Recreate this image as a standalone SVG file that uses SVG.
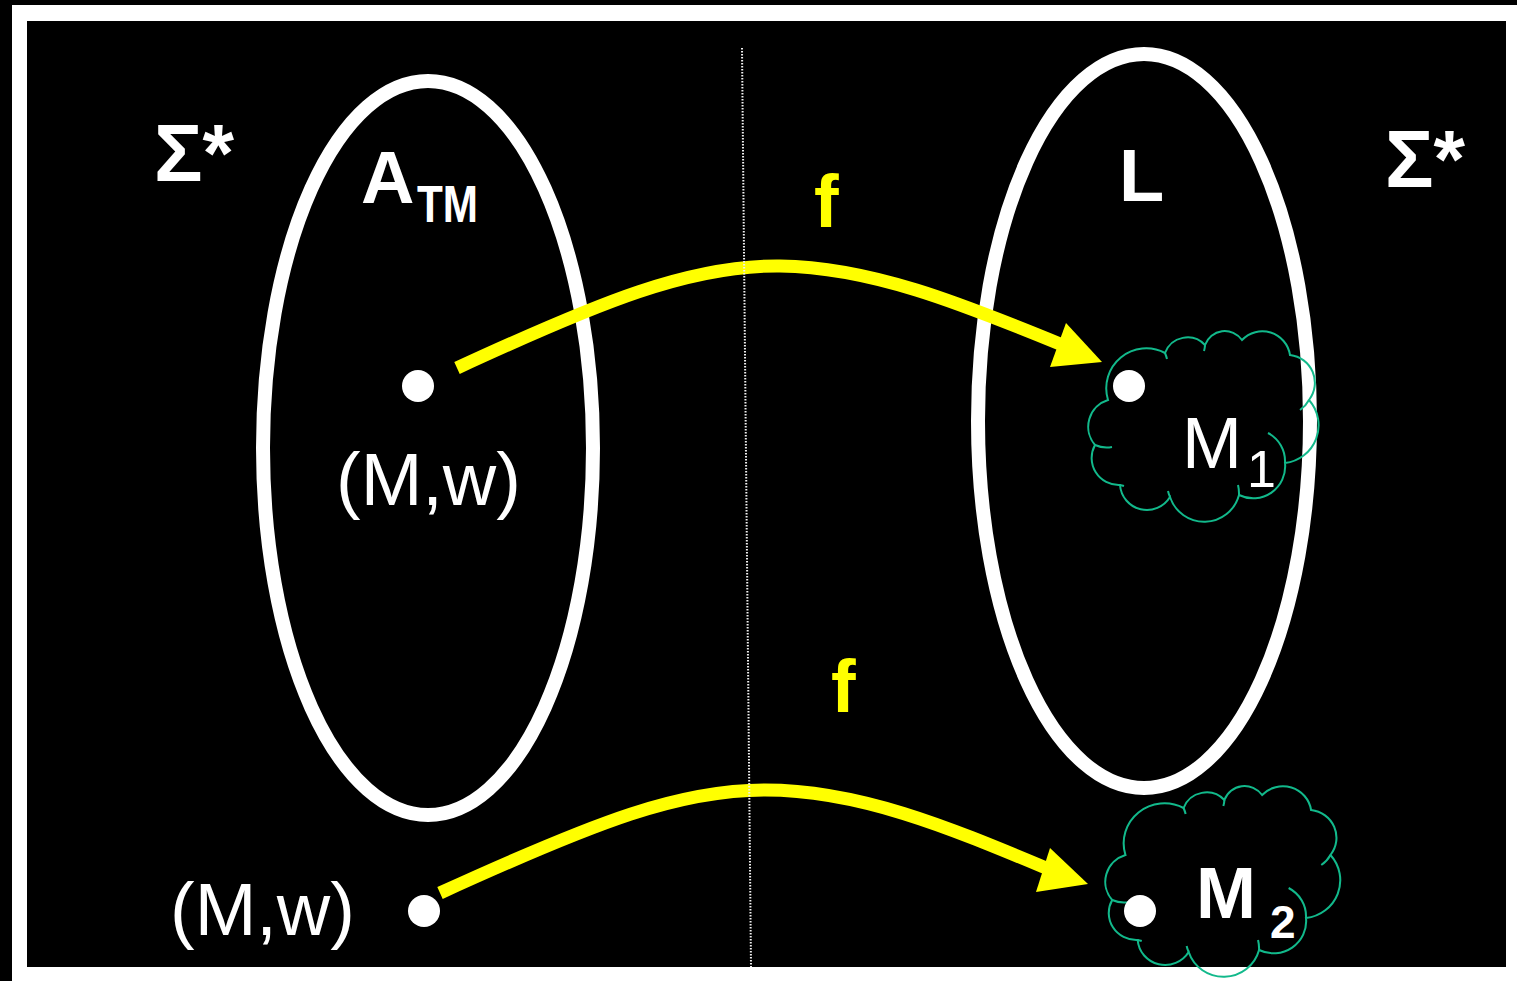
<svg xmlns="http://www.w3.org/2000/svg" width="1517" height="981" viewBox="0 0 1517 981">
  <style>
    .set { fill: none; stroke: #ffffff; stroke-width: 14; }
    .dot { fill: #ffffff; }
    .cloud { fill: none; stroke: #12b98b; stroke-width: 2; }
    .map { fill: none; stroke: #ffff00; stroke-width: 13; }
    .head { fill: #ffff00; }
    .lbl { fill: #ffffff; font-family: "Liberation Sans", Arial, sans-serif; }
    .b { font-weight: bold; }
    .f { fill: #ffff00; font-family: "Liberation Sans", Arial, sans-serif; font-weight: bold; font-size: 74px; }
  </style>
  <defs>
    <g id="cloudShape">
      <path class="cloud" d="M22,70 A40,40 0 0 1 79,23 A24,24 0 0 1 119,15 A21,21 0 0 1 156,10 A28,28 0 0 1 204,25 A28,28 0 0 1 223,70 A38,38 0 0 1 199,133 A32,32 0 0 1 153,165 A36,36 0 0 1 84,167 A27,27 0 0 1 34,155 A27,27 0 0 1 9,115 A28,28 0 0 1 22,70 Z"/>
      <path class="cloud" d="M182,103 A32,32 0 0 1 199,133 M26,117 A28,28 0 0 1 9,115 M223,70 A28,28 0 0 1 214,80 M79,23 A40,40 0 0 1 81,29 M119,15 A24,24 0 0 1 118,21 M152,155 A36,36 0 0 1 153,165 M84,167 A30,30 0 0 1 82,161 M34,155 A27,27 0 0 1 38,156"/>
    </g>
  </defs>

  <!-- frame -->
  <rect x="0" y="0" width="1517" height="981" fill="#000000"/>
  <rect x="12" y="5" width="1510" height="981" fill="#ffffff"/>
  <rect x="27" y="21" width="1479" height="946" fill="#000000"/>

  <!-- sets -->
  <g id="set-atm">
    <ellipse class="set" cx="428" cy="448" rx="165" ry="367"/>
    <text class="lbl b" x="361" y="203" font-size="74">A</text>
    <text class="lbl b" x="417" y="222" font-size="52" textLength="61" lengthAdjust="spacingAndGlyphs">TM</text>
  </g>
  <g id="set-l">
    <ellipse class="set" cx="1144" cy="421" rx="166" ry="367"/>
    <text class="lbl b" x="1119" y="201" font-size="74">L</text>
  </g>

  <g id="sigma-left">
    <text class="lbl b" x="154" y="181" font-size="81">Σ*</text>
  </g>
  <g id="sigma-right">
    <text class="lbl b" x="1385" y="187" font-size="81">Σ*</text>
  </g>

  <!-- elements -->
  <g id="mw-in">
    <circle class="dot" cx="418" cy="386" r="16"/>
    <text class="lbl" x="336" y="505" font-size="74">(M,w)</text>
  </g>
  <g id="mw-out">
    <circle class="dot" cx="424" cy="911" r="16"/>
    <text class="lbl" x="170" y="935" font-size="74">(M,w)</text>
  </g>

  <g id="m1">
    <use href="#cloudShape" transform="translate(1086,330)"/>
    <circle class="dot" cx="1129" cy="386" r="16"/>
    <text class="lbl" x="1182" y="468" font-size="72">M</text>
    <text class="lbl" x="1247" y="487" font-size="52">1</text>
  </g>
  <g id="m2">
    <use href="#cloudShape" transform="translate(1103,785) scale(1.02,1)"/>
    <circle class="dot" cx="1140" cy="911" r="16"/>
    <text class="lbl b" x="1196" y="918" font-size="72">M</text>
    <text class="lbl b" x="1270" y="938" font-size="46">2</text>
  </g>

  <!-- reduction arrows -->
  <g id="connectors">
    <path class="map" d="M457,368 C600,302 690,265 780,266 C870,267 960,303 1060,344"/>
    <polygon class="head" points="1066,323 1102,362 1050,367"/>
    <text class="f" x="814" y="227">f</text>
    <path class="map" d="M440,893 C600,820 680,790 765,790 C860,790 950,828 1046,868"/>
    <polygon class="head" points="1050,848 1088,884 1036,892"/>
    <text class="f" x="831" y="712">f</text>
  </g>

  <!-- divider -->
  <line x1="742" y1="48" x2="751" y2="967" stroke="#f0f0f0" stroke-width="2" stroke-dasharray="1.5 1.5"/>
</svg>
